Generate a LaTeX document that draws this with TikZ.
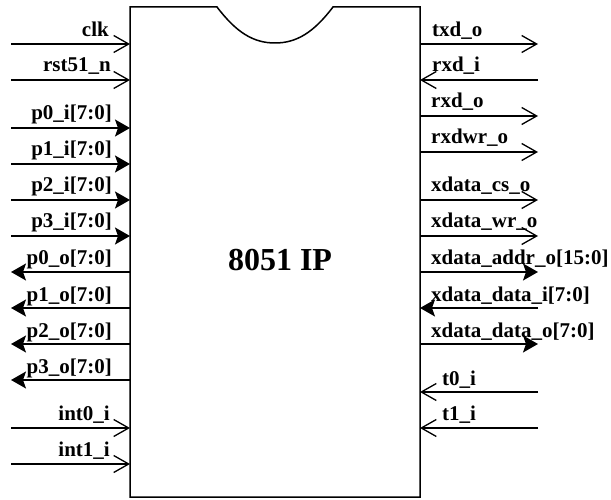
\documentclass[tikz,border=0pt]{standalone}
\usepackage{fontspec}
\setmainfont{Liberation Serif}
\usetikzlibrary{arrows.meta}
\begin{document}
\begin{tikzpicture}[x=1pt,y=-1pt,
  wire/.style={line width=1.3pt},
  openarr/.style={wire,-{Straight Barb[length=15pt,width=17pt,line width=1.3pt]}},
  busarr/.style={wire,-{Stealth[length=15pt,width=17pt,inset=3pt]}},
  lbl/.style={font=\fontsize{21}{21}\selectfont\bfseries,inner sep=0pt},
  llbl/.style={lbl,anchor=base east},
  rlbl/.style={lbl,anchor=base west}]
\useasboundingbox (0,0) rectangle (611,500);
% chip outline
\draw[line width=1.5pt] (130,7) -- (217,7) .. controls (236,32) and (253,43) .. (275,43)
  .. controls (297,43) and (314,32) .. (333,7) -- (420,7) -- (420,497) -- (130,497) -- cycle;
\node[font=\fontsize{32}{32}\selectfont\bfseries,inner sep=0pt,anchor=base] (title) at (280,270) {8051 IP};
% left side coordinates
\foreach \n/\y in {clk/44,rst/80,pzi/128,poi/164,pti/200,pthi/236,pzo/272,poo/308,pto/344,ptho/380,izi/428,ioi/464}{
  \coordinate (L\n) at (11,\y);
  \coordinate (B\n) at (130,\y);
}
\draw[openarr] (Lclk) -- (Bclk);
\draw[openarr] (Lrst) -- (Brst);
\draw[busarr] (Lpzi) -- (Bpzi);
\draw[busarr] (Lpoi) -- (Bpoi);
\draw[busarr] (Lpti) -- (Bpti);
\draw[busarr] (Lpthi) -- (Bpthi);
\draw[busarr] (Bpzo) -- (Lpzo);
\draw[busarr] (Bpoo) -- (Lpoo);
\draw[busarr] (Bpto) -- (Lpto);
\draw[busarr] (Bptho) -- (Lptho);
\draw[openarr] (Lizi) -- (Bizi);
\draw[openarr] (Lioi) -- (Bioi);
\node[llbl] (tclk) at (109,37) {clk};
\node[llbl] (trst) at (111,72) {rst51\_n};
\node[llbl] (tpzi) at (112,120) {p0\_i[7:0]};
\node[llbl] (tpoi) at (112,156) {p1\_i[7:0]};
\node[llbl] (tpti) at (112,192) {p2\_i[7:0]};
\node[llbl] (tpthi) at (112,228) {p3\_i[7:0]};
\node[llbl] (tpzo) at (112,265) {p0\_o[7:0]};
\node[llbl] (tpoo) at (112,301) {p1\_o[7:0]};
\node[llbl] (tpto) at (112,337) {p2\_o[7:0]};
\node[llbl] (tptho) at (112,373) {p3\_o[7:0]};
\node[llbl] (tizi) at (110,420) {int0\_i};
\node[llbl] (tioi) at (110,456) {int1\_i};
% right side coordinates
\foreach \n/\y in {txd/44,rxdi/80,rxdo/116,rxdwr/152,cs/200,wr/236,addr/272,di/308,do/344,tz/392,to/428}{
  \coordinate (R\n) at (538,\y);
  \coordinate (C\n) at (420,\y);
}
\draw[openarr] (Ctxd) -- (Rtxd);
\draw[openarr] (Rrxdi) -- (Crxdi);
\draw[openarr] (Crxdo) -- (Rrxdo);
\draw[openarr] (Crxdwr) -- (Rrxdwr);
\draw[openarr] (Ccs) -- (Rcs);
\draw[openarr] (Cwr) -- (Rwr);
\draw[busarr] (Caddr) -- (Raddr);
\draw[busarr] (Rdi) -- (Cdi);
\draw[busarr] (Cdo) -- (Rdo);
\draw[openarr] (Rtz) -- (Ctz);
\draw[openarr] (Rto) -- (Cto);
\node[rlbl] (ttxd) at (432,37) {txd\_o};
\node[rlbl] (trxdi) at (432,72) {rxd\_i};
\node[rlbl] (trxdo) at (431,108) {rxd\_o};
\node[rlbl] (trxdwr) at (431,144) {rxdwr\_o};
\node[rlbl] (tcs) at (431,192) {xdata\_cs\_o};
\node[rlbl] (twr) at (431,228) {xdata\_wr\_o};
\node[rlbl] (taddr) at (431,265) {xdata\_addr\_o[15:0]};
\node[rlbl] (tdi) at (431,301) {xdata\_data\_i[7:0]};
\node[rlbl] (tdo) at (431,337) {xdata\_data\_o[7:0]};
\node[rlbl] (ttz) at (442,385) {t0\_i};
\node[rlbl] (tto) at (442,420) {t1\_i};
\end{tikzpicture}
\end{document}
